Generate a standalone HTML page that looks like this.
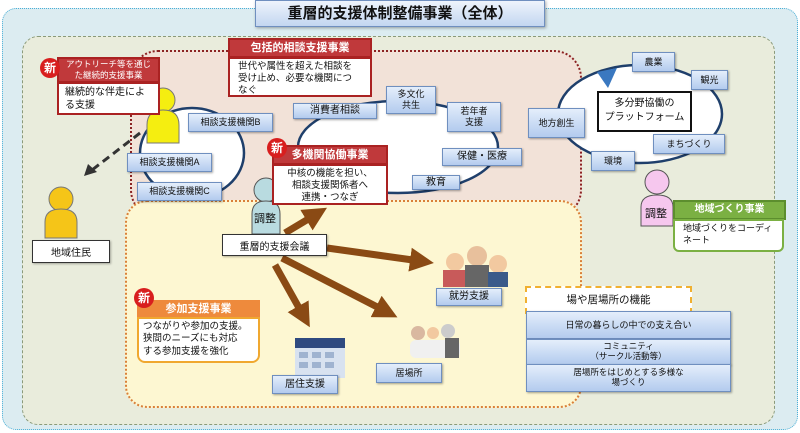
<!DOCTYPE html>
<html><head><meta charset="utf-8"><style>
*{margin:0;padding:0;box-sizing:border-box}
body{width:800px;height:433px;background:#fff;position:relative;overflow:hidden;font-family:"Liberation Sans","Noto Sans CJK JP",sans-serif;color:#111}
.a{position:absolute}
.lb{position:absolute;background:linear-gradient(#e4eefb,#b3cbee);border:1px solid #6f8fbf;box-shadow:1px 1px 2px rgba(0,0,0,.35);font-size:9px;display:flex;align-items:center;justify-content:center;text-align:center;line-height:1.2}
.rh{position:absolute;background:#c0393b;color:#fff;font-size:10px;font-weight:bold;text-align:center;border:2px solid #a22;line-height:1.2}
.rb{position:absolute;background:#fff;border:2px solid #a22;font-size:10px;line-height:1.3;padding:2px 8px}
.new{position:absolute;width:20px;height:20px;border-radius:50%;background:#d81e1e;color:#fff;font-size:12px;font-weight:bold;text-align:center;line-height:20px}
.wb{position:absolute;background:#fff;border:1px solid #333;font-size:10px;display:flex;align-items:center;justify-content:center;box-shadow:1px 1px 2px rgba(0,0,0,.3)}
</style></head><body>
<div class="a" style="left:2px;top:8px;width:796px;height:422px;background:#dcecf1;border:1.5px dotted #4ab0d8;border-radius:14px"></div>
<div class="a" style="left:22px;top:36px;width:753px;height:389px;background:#e9ecdc;border:1px dashed #8a9a7a;border-radius:16px"></div>
<div class="a" style="left:130px;top:50px;width:452px;height:168px;background:#f2e2d8;border:2.5px dotted #8b2222;border-radius:28px"></div>
<div class="a" style="left:125px;top:200px;width:457px;height:208px;background:#fdf7d2;border:2.5px dotted #d9803a;border-radius:22px"></div>

<div class="a" style="left:255px;top:0;width:290px;height:27px;background:linear-gradient(#eef4fc,#c3d6f0);border:1px solid #6f8fbf;box-shadow:1px 1px 3px rgba(0,0,0,.35);font-size:15px;font-weight:bold;text-align:center;line-height:26px">重層的支援体制整備事業（全体）</div>

<svg class="a" style="left:0;top:0" width="800" height="433">
<defs><marker id="ah" markerUnits="userSpaceOnUse" markerWidth="24" markerHeight="24" refX="10" refY="12" orient="auto"><path d="M0,0L24,12L0,24z" fill="#8a4a14"/></marker></defs>
<ellipse cx="192" cy="153" rx="52" ry="45" fill="#fff" stroke="#1f3f6b" stroke-width="2.5"/>
<ellipse cx="398" cy="147" rx="100" ry="46" fill="#fff" stroke="#1f3f6b" stroke-width="2.5"/>
<ellipse cx="640" cy="114" rx="82" ry="49" fill="#fff" stroke="#1f3f6b" stroke-width="2.5"/>
<path d="M597,72L617,68L608,88z" fill="#3a78c0"/>
<line x1="140" y1="133" x2="92" y2="170" stroke="#333" stroke-width="3" stroke-dasharray="8,5"/>
<path d="M84,176L88,164L97,172z" fill="#333"/>
<g stroke="#8a4a14" stroke-width="7" marker-end="url(#ah)">
<line x1="285" y1="233" x2="315" y2="215"/>
<line x1="327" y1="248" x2="420" y2="261"/>
<line x1="282" y1="258" x2="385" y2="311"/>
<line x1="275" y1="265" x2="303" y2="315"/>
</g>
<circle cx="163" cy="100" r="12" fill="#f5ee10" stroke="#777"/><path d="M147,143V125Q147,110 163,110Q179,110 179,125V143z" fill="#f5ee10" stroke="#777"/>
<circle cx="61" cy="199" r="12" fill="#f5c518" stroke="#777"/><path d="M45,238V222Q45,209 61,209Q77,209 77,222V238z" fill="#f5c518" stroke="#777"/>
<circle cx="266" cy="190" r="12" fill="#b9dbe0" stroke="#555"/><path d="M252,234V214Q252,201 266,201Q280,201 280,214V234z" fill="#b9dbe0" stroke="#555"/>
<circle cx="657" cy="182" r="12" fill="#f6c7ee" stroke="#555"/><path d="M641,226V207Q641,195 657,195Q673,195 673,207V226z" fill="#f6c7ee" stroke="#555"/>
<g><circle cx="455" cy="262" r="9" fill="#f2c9a0"/><rect x="443" y="270" width="22" height="17" fill="#c85a5a"/><circle cx="477" cy="256" r="10" fill="#e8c09c"/><rect x="465" y="265" width="24" height="22" fill="#666"/><circle cx="498" cy="264" r="9" fill="#f2c9a0"/><rect x="488" y="272" width="20" height="15" fill="#3a5a8a"/></g>
<g><circle cx="418" cy="333" r="7" fill="#d9b8a0"/><circle cx="433" cy="333" r="6" fill="#f2c9a0"/><circle cx="448" cy="331" r="7" fill="#ccc"/><rect x="410" y="340" width="50" height="18" rx="6" fill="#f0f0f0"/><rect x="445" y="338" width="14" height="20" fill="#666"/></g>
<g><rect x="295" y="338" width="50" height="10" fill="#2f4a80"/><rect x="295" y="348" width="50" height="30" fill="#d8e2f0"/><g fill="#9fb3d0"><rect x="299" y="352" width="9" height="6"/><rect x="312" y="352" width="9" height="6"/><rect x="325" y="352" width="9" height="6"/><rect x="299" y="362" width="9" height="6"/><rect x="312" y="362" width="9" height="6"/><rect x="325" y="362" width="9" height="6"/></g></g>
</svg>

<div class="lb" style="left:188px;top:113px;width:85px;height:19px">相談支援機関B</div>
<div class="lb" style="left:127px;top:153px;width:85px;height:19px">相談支援機関A</div>
<div class="lb" style="left:137px;top:182px;width:85px;height:19px">相談支援機関C</div>
<div class="lb" style="left:293px;top:103px;width:84px;height:16px;font-size:10px">消費者相談</div>
<div class="lb" style="left:386px;top:86px;width:50px;height:28px">多文化<br>共生</div>
<div class="lb" style="left:447px;top:102px;width:54px;height:30px">若年者<br>支援</div>
<div class="lb" style="left:442px;top:148px;width:80px;height:18px;font-size:10px">保健・医療</div>
<div class="lb" style="left:412px;top:175px;width:48px;height:15px;font-size:10px">教育</div>
<div class="lb" style="left:632px;top:52px;width:43px;height:20px">農業</div>
<div class="lb" style="left:691px;top:70px;width:37px;height:20px">観光</div>
<div class="lb" style="left:528px;top:108px;width:57px;height:30px">地方創生</div>
<div class="lb" style="left:591px;top:151px;width:44px;height:20px">環境</div>
<div class="lb" style="left:653px;top:134px;width:72px;height:20px">まちづくり</div>
<div class="a" style="left:597px;top:91px;width:95px;height:41px;background:#fff;border:2px solid #111;font-size:10px;text-align:center;line-height:1.35;padding-top:4px">多分野協働の<br>プラットフォーム</div>

<div class="rh" style="left:57px;top:57px;width:103px;height:26px;font-size:8.5px;font-weight:normal;line-height:1.25">アウトリーチ等を通じ<br>た継続的支援事業</div>
<div class="rb" style="left:57px;top:82px;width:103px;height:33px;padding:2px 6px">継続的な伴走によ<br>る支援</div>
<div class="new" style="left:40px;top:58px">新</div>
<div class="rh" style="left:228px;top:38px;width:144px;height:20px;font-size:11px;line-height:16px">包括的相談支援事業</div>
<div class="rb" style="left:228px;top:57px;width:144px;height:40px;font-size:9.5px;line-height:1.25">世代や属性を超えた相談を<br>受け止め、必要な機関につ<br>なぐ</div>
<div class="rh" style="left:272px;top:145px;width:116px;height:20px;font-size:11px;line-height:16px">多機関協働事業</div>
<div class="rb" style="left:272px;top:164px;width:116px;height:41px;font-size:9.5px;text-align:center;padding:2px 2px;line-height:1.25">中核の機能を担い、<br>相談支援関係者へ<br>連携・つなぎ</div>
<div class="new" style="left:267px;top:138px">新</div>

<div class="a" style="left:254px;top:210px;font-size:11px">調整</div>
<div class="wb" style="left:222px;top:234px;width:105px;height:22px">重層的支援会議</div>
<div class="wb" style="left:32px;top:240px;width:78px;height:23px">地域住民</div>

<div class="a" style="left:137px;top:300px;width:123px;height:18px;background:#ee8a3c;color:#fff;font-size:11px;font-weight:bold;text-align:center;line-height:18px">参加支援事業</div>
<div class="a" style="left:137px;top:317px;width:123px;height:46px;background:#fff;border:2px solid #f0a830;border-radius:0 0 8px 8px;font-size:9.5px;line-height:1.3;padding:2px 4px;white-space:nowrap">つながりや参加の支援。<br>狭間のニーズにも対応<br>する参加支援を強化</div>
<div class="new" style="left:134px;top:288px">新</div>

<div class="lb" style="left:436px;top:288px;width:66px;height:18px;font-size:10px">就労支援</div>
<div class="lb" style="left:376px;top:363px;width:66px;height:20px">居場所</div>
<div class="lb" style="left:272px;top:375px;width:66px;height:19px;font-size:10px">居住支援</div>

<div class="a" style="left:645px;top:205px;font-size:11px">調整</div>
<div class="a" style="left:673px;top:200px;width:113px;height:20px;background:#7bb043;border:2px solid #5c8e2e;color:#fff;font-size:10px;font-weight:bold;text-align:center;line-height:16px">地域づくり事業</div>
<div class="a" style="left:673px;top:219px;width:111px;height:33px;background:#fff;border:2px solid #7bb043;border-radius:0 0 6px 6px;font-size:9px;line-height:1.3;padding:2px 8px">地域づくりをコーディ<br>ネート</div>

<div class="a" style="left:525px;top:286px;width:167px;height:28px;background:#fff;border:2px dashed #f0b030;border-bottom:none;font-size:10.5px;text-align:center;line-height:24px">場や居場所の機能</div>
<div class="lb" style="left:526px;top:311px;width:205px;height:28px">日常の暮らしの中での支え合い</div>
<div class="lb" style="left:526px;top:339px;width:205px;height:26px;font-size:8.5px;line-height:1.15">コミュニティ<br>（サークル活動等）</div>
<div class="lb" style="left:526px;top:364px;width:205px;height:28px;font-size:8.5px;line-height:1.15">居場所をはじめとする多様な<br>場づくり</div>
</body></html>
